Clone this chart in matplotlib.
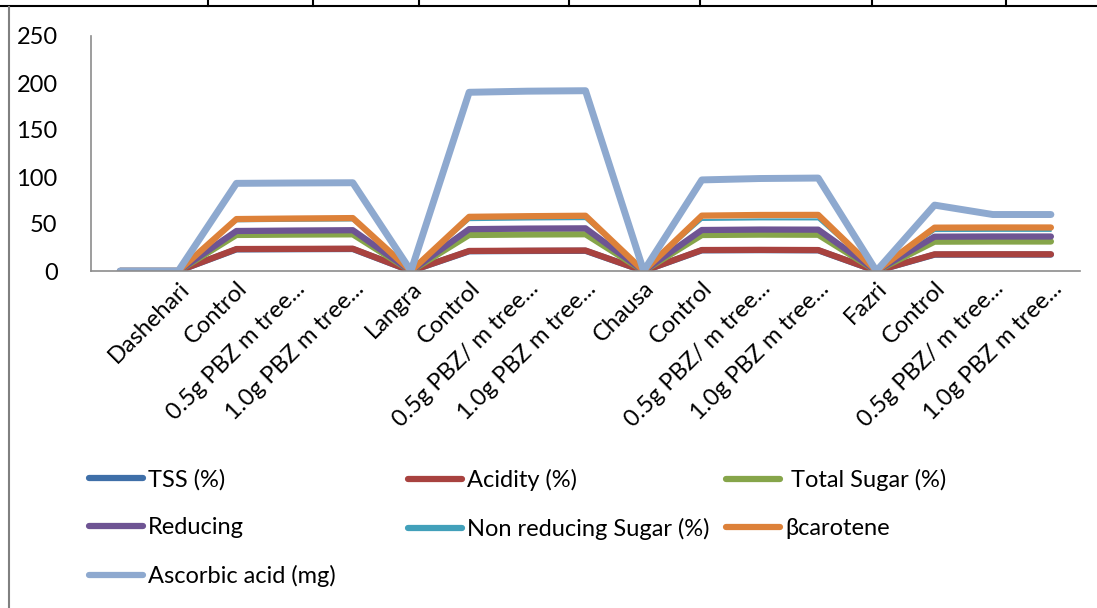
import numpy as np
import matplotlib.pyplot as plt
from matplotlib.lines import Line2D

plt.rcParams['font.family'] = ['Lato', 'DejaVu Sans']

# Categories (first one is an empty header cell)
categories = ['', 'Dashehari', 'Control', '0.5g PBZ m tree...', '1.0g PBZ m tree...',
              'Langra', 'Control', '0.5g PBZ/ m tree...', '1.0g PBZ m tree...',
              'Chausa', 'Control', '0.5g PBZ/ m tree...', '1.0g PBZ m tree...',
              'Fazri', 'Control', '0.5g PBZ/ m tree...', '1.0g PBZ m tree...']

# Quality parameters per category (stacked in the chart)
tss = [0, 0, 23.0, 23.2, 23.4, 0, 21.0, 21.3, 21.5, 0, 22.0, 22.2, 22.0, 0, 17.4, 17.5, 17.5]
acidity = [0, 0, 0.35, 0.33, 0.30, 0, 0.32, 0.30, 0.29, 0, 0.30, 0.29, 0.28, 0, 0.30, 0.29, 0.28]
total_sugar = [0, 0, 15.0, 15.2, 15.3, 0, 17.0, 17.2, 17.3, 0, 16.0, 16.2, 16.3, 0, 13.5, 13.6, 13.6]
reducing = [0, 0, 4.2, 4.3, 4.4, 0, 6.2, 6.3, 6.3, 0, 5.3, 5.4, 5.4, 0, 5.3, 5.3, 5.3]
non_reducing = [0, 0, 10.3, 10.4, 10.4, 0, 9.6, 9.7, 9.8, 0, 10.7, 10.8, 10.9, 0, 6.0, 6.0, 6.0]
b_carotene = [0, 0, 2.4, 2.4, 2.5, 0, 3.5, 3.5, 3.6, 0, 4.6, 4.7, 4.8, 0, 3.6, 3.6, 3.6]
ascorbic = [0, 0, 38.0, 37.8, 37.6, 0, 132.5, 133.0, 133.0, 0, 38.0, 38.8, 39.2, 0, 24.0, 13.8, 13.8]

labels = ['TSS (%)', 'Acidity (%)', ' Total Sugar (%)', 'Reducing',
          'Non reducing Sugar (%)', 'βcarotene', 'Ascorbic acid (mg)']
colors = ['#3F6FA8', '#A8423F', '#86A54A', '#6E5493', '#42A0BA', '#DD8139', '#8EA9CF']
widths = [4.5, 4.5, 4.5, 4.5, 1.5, 4.5, 5.0]

series = np.array([tss, acidity, total_sugar, reducing, non_reducing, b_carotene, ascorbic])
stacked = np.cumsum(series, axis=0)

fs = 17
fig = plt.figure(figsize=(10.97, 6.08), dpi=100)
ax = fig.add_axes([91/1097, (608-271)/608, (1080-91)/1097, (271-36)/608])

x = np.arange(len(categories))
handles = []
for vals, lab, col, lw in zip(stacked, labels, colors, widths):
    h, = ax.plot(x, vals, color=col, lw=lw, label=lab,
                 solid_capstyle='round', solid_joinstyle='round')
    handles.append(h)

ax.set_xlim(-0.5, len(categories) - 0.5)
ax.set_ylim(0, 250)
ax.set_yticks([0, 50, 100, 150, 200, 250])
ax.set_xticks(x)
ax.set_xticklabels(categories, rotation=45, ha='right', rotation_mode='anchor', fontsize=fs)
ax.tick_params(axis='both', length=0, labelsize=fs)
ax.tick_params(axis='y', pad=24)
ax.tick_params(axis='x', pad=5)
for s in ['top', 'right']:
    ax.spines[s].set_visible(False)
for s in ['left', 'bottom']:
    ax.spines[s].set_color('#8C8C8C')
    ax.spines[s].set_linewidth(1.2)

# Legend in three columns placed like the original layout
cols = [[0, 3, 6], [1, 4], [2, 5]]
xs = [89/1097, 408/1097, 726/1097]
for idx, xa in zip(cols, xs):
    hs = [Line2D([], [], color=colors[i], lw=4.5, solid_capstyle='round') for i in idx]
    fig.legend(hs, [labels[i] for i in idx], loc='upper left',
               bbox_to_anchor=(xa, 1 - 469/608), frameon=False, fontsize=fs,
               handlelength=2.3, handletextpad=0.2, labelspacing=1.13,
               borderpad=0, borderaxespad=0)

# Page borders around the chart
fig.add_artist(Line2D([0, 1], [1 - 5.5/608, 1 - 5.5/608], color='black', lw=1.5))
for xv in [208, 313, 419, 569, 700, 872, 1006]:
    fig.add_artist(Line2D([xv/1097, xv/1097], [1, 1 - 5.5/608], color='black', lw=1.5))
fig.add_artist(Line2D([9/1097, 9/1097], [0, 1 - 7/608], color='#808080', lw=1.5))

fig.savefig('out.png', dpi=100)
